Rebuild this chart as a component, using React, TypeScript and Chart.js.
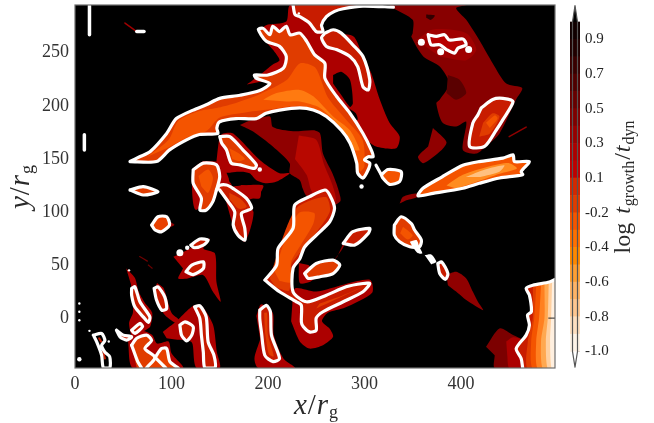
import React, { useEffect, useRef } from "react";
import { Chart, registerables } from "chart.js";

Chart.register(...registerables);

type P = number[][];

const xTicks = [0, 100, 200, 300, 400];
const yTicks = [0, 50, 100, 150, 200, 250];
const cbarTickValues = [-1, -0.789, -0.579, -0.368, -0.158, 0.053, 0.263, 0.474, 0.684, 0.895];
const cbarTickLabels = ["-1.0", "-0.8", "-0.6", "-0.4", "-0.2", "0.1", "0.3", "0.5", "0.7", "0.9"];
const cbarLevels = [-1, -0.895, -0.789, -0.684, -0.579, -0.474, -0.368, -0.263, -0.158, -0.053, 0.053, 0.158, 0.263, 0.368, 0.474, 0.579, 0.684, 0.789, 0.895, 1];
const cbarColors = ["#fff3e6", "#ffdfc0", "#ffc690", "#ffb366", "#ff9f33", "#ff8800", "#ff7000", "#f55500", "#e03c00", "#d42800", "#c00000", "#ad0000", "#980000", "#800000", "#680000", "#500000", "#380000", "#200000", "#100000"];

const DARK = "#900000", MID = "#ac0000", RED = "#c81c00", ORED = "#e03c00", ORANGE = "#f45400", BRIGHT = "#ff7a10", DEEP = "#5a0000", WHITE = "#ffffff", BLACK = "#000000";

// ----- filled level regions (x, y in r_g) -----
const topHalo: P = [[178,220],[191.5,229],[205,239],[212,243],[205,253],[191.5,268.5],[198,276],[219,279.5],[223,295],[268,295],[254,281],[255.5,268.5],[288,265.8],[298.5,246.5],[307,231],[316,205.7],[326,184],[336.5,171],[333,160],[312,161.7],[300,170],[260,205],[233,230]];
const topHole: P = [[267.5,229],[276,232],[285,224.5],[288,202.5],[285,199],[274.5,212],[267.5,221]];
const topNotch: P = [[285,197],[291,193],[293,187],[288,186]];
const stream: P = [[178,185],[202,190],[205,180],[226,176],[247,177],[254,174],[257,155],[267,136],[273,121],[275,110],[262,105],[240,115],[236,122],[233,130],[222.5,136.5],[222.5,146],[205,161.7],[184.6,175.8],[171,182]];
const streamCore: P = [[232,172],[250,168],[258,145],[267,125],[270,110],[255,108],[245,120],[240,135],[228,150]];
const midHalo: P = [[146.6,147.5],[150,171],[153.5,174],[164,174],[191.5,149],[212,136.5],[222.5,136.5],[209,128.6],[198.4,127],[188,130],[181,136.5],[172.5,138],[160.5,136.5],[160.5,128],[177,125],[191.5,124],[191.5,113],[172.5,113],[185,100],[176,72],[165,85],[150,122],[125,102],[122,140],[133,148]];
const midBlackA: P = [[157,137],[170,136],[173,126],[163,124]];
const r2Halo: P = [[330,292],[350,281],[350,268.5],[348.6,265],[361,246.5],[378,237],[388,221],[378,205.7],[374.5,202.5],[381,184],[395,180.5],[405.5,185],[402,158.5],[416,155],[426,162],[440,174],[457,205.7],[463.5,216.7],[447,221],[433,240],[419,262],[405.5,281],[395,292],[405.5,295],[326,295]];
const r2Core: P = [[354,262],[371,272],[405.5,268.5],[416,253],[405.5,243],[378,246.5]];
const r2Deep: P = [[386.5,229],[398.6,224.5],[405.5,212],[395,205.7],[385,212]];
const r2Hole: P = [[364,286],[373,285],[369,281],[364,283]];
const gBlob: P = [[371,179],[385,166],[380,158.5],[361,146],[355.5,152],[366,161.7]];
const bHalo: P = [[224,-3],[233,-22],[243,-28.7],[257,-25.5],[267.5,-17.6],[264,-10],[256,-3],[262,5],[280,10],[308,24],[306,36],[280,32],[250,25],[228,28],[225,10]];
const mHalo: P = [[232,52],[233,33],[243,34],[250,40],[242,50]];
const nTail: P = [[267,53],[277,65],[287,84],[278,70],[272,58]];
const hTail: P = [[336.5,108],[340,114.4],[354,117.5],[355.5,114.4],[343.4,111]];
const trail: P = [[385,40.5],[395,43.6],[405.5,37.4],[412.4,24.8],[417.6,15.4],[423,7.5],[405.5,17],[395,25],[386.5,31]];
const uDark: P = [[426,-27],[440,-9.8],[454,-16],[464,-21],[462,-30],[464,-47],[435,-47],[435,-35]];
const uMid: P = [[447,-22],[454,-18],[464,-21],[462,-30],[464,-47],[450,-47],[448,-35]];
const qHalo: P = [[102,57.8],[112,62],[140,75],[133,65.7],[145,61],[146.6,34],[151,15.4],[143,24.8],[133,40.5],[117,37.4],[107,37.4],[112,46.8]];
const tHalo: P = [[53,47],[62,38],[66,25],[72,15],[80,5],[78,-8],[72,-12],[60,-18],[56,-5],[60,5],[60,20],[58,32]];
const oHalo: P = [[85,33],[92,28],[100,5],[108,-2],[105,-5],[92,4],[82,25]];
const vHalo: P = [[91,-13],[105,-3],[115,6],[123,12],[131,12],[143,-6],[147,-32],[150,-47],[126,-47],[122,-25],[120,-22],[102,-20],[95,-19]];
const v2Halo: P = [[55,-22],[60,-47],[112,-47],[100,-33],[97,-22],[85,-24],[80,-16],[70,-12],[60,-15]];
const pHalo: P = [[188,2],[193,13],[205,5],[206,-16],[216,-38],[228,-47],[190,-47],[186,-38],[192,-20]];
const blob2Tip: P = [[95,92],[103,88],[95,84]];
const d2Halo: P = [[172.5,125],[195,125],[192,118],[182,112],[175,115]];

const armFill: P = [[57,147.5],[67,152],[78,157],[95,174],[105,188],[122.5,196],[136,201],[150,207],[171,210],[191.5,214.5],[202,221],[188,226],[186,229],[200,229],[216,235.5],[219,246.5],[212,256],[198,261],[190,272],[195,273],[202,267],[205,275],[212,270],[219,275],[223,267],[233,268.5],[240,261],[248.5,248],[259,240],[259,226],[271,209],[285,193],[298.5,174],[307,158.5],[309,152],[304,152],[300,149],[305.5,146],[304,140],[298.5,132],[293,136.5],[292,146],[285,165],[276,177],[260.6,190],[247,196],[233,198],[212,196],[198,193],[188,188],[167,188],[150,185],[147,179],[148,174],[129,173],[115.6,168],[98,158.5],[84.5,147.5],[57,147.5]];
const armOrange: P = [[75,152],[97,168],[107,186],[128,195],[147,198],[164,202],[191.5,211],[219,224],[233,240],[249,236],[262,208],[280,188],[298,168],[300,143],[295,138],[287,168],[265,186],[250,196],[233,200],[205,197],[178,194],[150,189],[136,176],[115.6,170],[95,160]];
const armBright: P = [[195,205.7],[209,212],[233,215],[247,209],[267.5,190],[285,177],[295,158.5],[290,158.5],[274.5,180.5],[254,198],[233,204],[219,204]];
const topInner: P = [[226,295],[228,286],[233,284],[243,278],[250,270],[257,270],[255.5,276],[260.6,284],[269,289],[278,291.5],[298.5,295]];
const loopTwo: P = [[259,268.5],[267.5,271.7],[276,268.5],[288,257.5],[298.5,246.5],[305.5,224.5],[304,215],[298.5,218],[293,237],[285,246.5],[271,253],[260.6,256],[255.5,264],[259,268.5]];
const squiggle: P = [[366,267],[374.5,265.4],[383,267],[388,262],[402,263],[405.5,257.5],[397,254.4],[393.4,249.7],[385,253],[378,257.5],[369,257.5],[366,267]];
const fLoop: P = [[421,198],[433,206],[443.5,207],[454,204],[443.5,187],[436.5,177],[424.5,161.7],[409,161.7],[412.4,184],[417.6,191.5],[421,198]];
const fOrange: P = [[423,184],[433,193],[440,190],[430,174],[419,171]];
const fBright: P = [[426,184],[435,191],[438,188],[430,179]];
const hLoop: P = [[381,133.4],[402,144],[419,147.5],[443.5,150.7],[454,153.8],[455.5,147.5],[471,147.5],[462.4,138],[464,135],[440,132],[419,127],[402,122.4],[371,117.5],[355.5,115.3],[360.6,122.3],[381,133.4]];
const hMid: P = [[385,125],[402,135],[430,143],[450,146],[458,141],[440,136],[415,128],[395,122]];
const hLight: P = [[405,133],[425,140],[445,144],[440,138],[420,133]];
const jLoop: P = [[317.5,135],[324.4,140],[338,138],[336.5,128.7],[326,126],[319,132],[317.5,135]];
const bLoop: P = [[196.7,35.8],[209,50],[210.5,65.7],[226,84.5],[227.7,106.5],[243,114.4],[259,120.7],[264,116],[269,103.4],[264,90.8],[250,78],[238,67],[233,56],[226,46.8],[226,24.8],[240,15.4],[260.6,21.6],[281,29.5],[298.5,32.6],[305.5,32.6],[298.5,24.8],[278,15.4],[257,6],[250,0],[250,-11.4],[243,-13],[236.5,-8],[234.6,-3.5],[234.6,12],[229.5,15.4],[212,24.8],[196.7,35.8]];
const bOrange: P = [[207,43.7],[217,72],[232,99],[248,99],[247,89],[234,69],[224,53],[224,34],[212,35]];
const bOuter: P = [[202,37],[213,70],[230,104],[260,114],[264,100],[241,70],[224,50],[222,26],[208,29]];
const kInner: P = [[250,9],[298.5,29.5],[278,21.6],[253.6,13.8]];
const mLoop: P = [[238,42],[250,51.5],[267.5,54.6],[274.5,50],[267.5,42],[254,39],[241.6,37.4],[238,42]];
const nLoop: P = [[278,70.4],[288,81.4],[305.5,84.5],[304,79.8],[290,68.8],[278,70.4]];
const dLoop: P = [[150,171],[160.5,171],[174,158.5],[188,144.4],[186,141],[171,144.4],[162,146],[157,158.5],[152,165],[150,171]];
const dOrange: P = [[160,160],[170,155],[176,150],[170,148],[163,150]];
const cLoop: P = [[122.5,139.6],[133,146],[146.6,144.4],[150,133.4],[146.6,120.7],[143,110],[136,101.8],[129.5,101.8],[131,112.8],[122.5,127],[122.5,139.6]];
const cOrange: P = [[128,134],[138,140],[143,132],[138,118],[131,124]];
const d2Loop: P = [[146.6,120.7],[150,125],[157,125.4],[164,122],[177.7,112.8],[183,103.4],[172.5,98.7],[176,84.5],[176,73.5],[169,78],[164,87.7],[165.6,100],[158.7,109.7],[150,120.7]];
const d2Orange: P = [[160,118],[172,112],[178,105],[170,103],[160,112]];
const ovalA: P = [[57,120.7],[70.7,123.8],[86,119],[70.7,116],[57,120.7]];
const ovalB: P = [[79.4,87.7],[86,95.5],[95,95.5],[98,87.7],[89.7,81.4],[83,83],[79.4,87.7]];
const ovalC: P = [[120,68.8],[129.4,74.5],[138,73.5],[133,68.8],[124,66.3],[120,68.8]];
const ovalD: P = [[115,43.7],[121,50],[133,53],[133,46.8],[122.5,41],[115,43.7]];
const ovalE: P = [[82,28],[86,29.5],[93,20],[95,9],[90,7.5],[84.5,17],[82,28]];
const ovalF: P = [[58.7,28],[62,29.5],[67.3,15.4],[77.6,1.2],[76,-4],[70.7,1.2],[62,10.6],[58.7,21.6],[58.7,28]];
const ovalG: P = [[58.7,-11.4],[67.3,-5],[70,-8],[62,-14.5],[58.7,-11.4]];
const ovalH: P = [[43,-11.4],[50,-16],[58.7,-17.6],[53.5,-20.8],[46.6,-17.6],[43,-11.4]];
const ovalI: P = [[108.7,-6.6],[114,-3.5],[122.5,-8],[121,-16],[115.6,-21.4],[110.4,-16],[108.7,-6.6]];
const tallLoop: P = [[124,10.6],[129.4,11.6],[136,1.2],[138,-22.4],[144,-35],[145,-47],[134.6,-47],[133,-32],[131,-16],[129.4,-0.4],[124,10.6]];
const leftLoop: P = [[19,-16],[27.6,-14.5],[31,-21],[27.6,-25.5],[31,-32],[36,-36.5],[36,-47],[29.4,-47],[27.6,-35],[22.5,-22.4],[19,-16]];
const waveFillA: P = [[58.7,-25.5],[64,-19],[74.2,-16],[79.4,-21],[72.5,-28.7],[83,-37],[74,-47],[64,-47]];
const waveFillB: P = [[83,-37],[89.7,-28.7],[95,-28.7],[98.4,-41],[107,-47],[74,-47]];
const pLoop: P = [[191.5,7.5],[198.4,12],[202.5,6],[203.6,-16],[212,-38],[205.3,-41],[196.7,-35],[193.2,-13],[191.5,-0.4],[191.5,7.5]];
const pOrange: P = [[196,5],[199,5],[200,-16],[206,-36],[201,-34],[197,-14]];
const cornerFill: P = [[457.3,-28.7],[467.6,-16],[471,-6.6],[469,3],[473,6],[471,21.6],[467.6,28],[474.5,31],[491.7,34],[499,37],[499,-48],[464,-48],[462.4,-38]];
const bandA: P = [[474.5,29.5],[474.5,0],[469.3,-22.4],[469.3,-48],[499,-48],[499,37]];
const bandB: P = [[478,29.5],[476,0],[472.8,-22],[474.5,-48],[499,-48],[499,37]];
const bandC: P = [[483,31],[481,0],[478,-22],[479.7,-48],[499,-48],[499,37]];
const bandD: P = [[486.6,33],[486.6,0],[483,-22],[485,-48],[499,-48],[499,37]];
const bandE: P = [[491,34.2],[490,0],[488,-22],[490,-48],[499,-48],[499,37]];
const bandF: P = [[494.5,35],[493.5,0],[492.4,-22],[494,-48],[499,-48],[499,37]];
const zLoop: P = [[331,87.7],[338,95.5],[348.6,89],[352,83],[359,73.5],[357,67.2],[347,67.2],[336.5,72],[331,78.2],[331,87.7]];
const zOrange: P = [[340,86],[350,78],[345,74],[337,80]];
const chainA: P = [[347,72],[354,73.5],[357,67],[360,61],[355.5,61],[350,67]];
const chainB: P = [[362.4,59.4],[369.3,60],[374.5,53],[369.3,50.6]];
const chainC: P = [[376,51.5],[380,53],[386.5,42],[383.8,36.4],[378,42],[376,51.5]];

// ----- open white contours -----
const topLineA: P = [[226,295],[228,286],[233,284],[243,278],[250,270],[257,270],[255.5,276],[260.6,284],[269,289],[278,291.5],[298.5,294],[330,293]];
const jTail: P = [[312,144],[317.5,135]];
const cornerLine: P = [[499,37],[491.7,34],[474.5,31],[467.6,28],[471,21.6],[473,6],[469,3],[471,-6.6],[467.6,-16],[457.3,-28.7],[462.4,-38],[464,-47]];
const waveA: P = [[58.7,-25.5],[64,-19],[74.2,-16],[79.4,-21],[72.5,-28.7],[83,-37],[74,-47]];
const waveB: P = [[58.7,-25.5],[65,-41],[69,-47]];
const waveC: P = [[83,-37],[89.7,-28.7],[95,-28.7],[98.4,-41],[107,-47]];
const waveD: P = [[83,-37],[94,-47]];
const barA: P = [[15,294],[15,267]];
const barB: P = [[9.7,172.7],[9.7,158.5]];
const barC: P = [[64,270],[71.5,270]];
const tallCore: P = [[128,8],[133,-5],[135,-22],[139,-35],[140,-47]];
const leftCore: P = [[25,-19],[27,-22]];
const leftCoreB: P = [[29,-31],[31,-38]];
const streakA: P = [[450,171],[467.6,180]];
const streakB: P = [[51.8,278],[64,270]];
const streakC: P = [[67,58],[75,53.7]];
const streakD: P = [[76,50],[80,47]];
const axisTickRight: P = [[491,0],[498,0]];

// ----- small spots -----
const spotsLarge: P = [[359,260],[379,251],[408,253],[108.7,61.6]];
const spotsMid: P = [[191.5,140],[116.3,66.3],[4.5,-38.7],[297,124]];
const spotsSmall: P = [[15,-12],[35,-22],[4.5,13.8],[4.5,6],[4.5,-2],[56,45],[232,287]];

type Layer = { pts: P; fill?: string; line?: string; width?: number; radius?: number };

const layers: Layer[] = [
  { pts: topHalo, fill: MID }, { pts: topHole, fill: BLACK }, { pts: topNotch, fill: BLACK },
  { pts: stream, fill: DARK }, { pts: streamCore, fill: "#b80800" }, { pts: midHalo, fill: MID }, { pts: midBlackA, fill: BLACK },
  { pts: r2Halo, fill: "#880000" }, { pts: r2Core, fill: "#a00000" }, { pts: r2Deep, fill: DEEP }, { pts: r2Hole, fill: "#300000" },
  { pts: gBlob, fill: DARK }, { pts: bHalo, fill: MID }, { pts: mHalo, fill: MID }, { pts: nTail, fill: DARK }, { pts: hTail, fill: DARK },
  { pts: trail, fill: "#900000" }, { pts: uDark, fill: "#7c0000" }, { pts: uMid, fill: "#ac0000" }, { pts: qHalo, fill: MID },
  { pts: tHalo, fill: MID }, { pts: oHalo, fill: MID }, { pts: vHalo, fill: MID }, { pts: v2Halo, fill: MID }, { pts: pHalo, fill: MID },
  { pts: blob2Tip, fill: DARK }, { pts: d2Halo, fill: MID },
  { pts: armFill, fill: ORED }, { pts: armOrange, fill: ORANGE }, { pts: armBright, fill: BRIGHT },
  { pts: topInner, fill: RED }, { pts: loopTwo, fill: RED }, { pts: squiggle, fill: "#b80000" },
  { pts: fLoop, fill: RED }, { pts: fOrange, fill: "#e03c00" }, { pts: fBright, fill: ORANGE },
  { pts: hLoop, fill: ORANGE }, { pts: hMid, fill: "#ff8c20" }, { pts: hLight, fill: "#ffc080" },
  { pts: jLoop, fill: ORANGE },
  { pts: bLoop, fill: RED }, { pts: bOuter, fill: ORED }, { pts: bOrange, fill: ORANGE }, { pts: kInner, fill: ORED },
  { pts: mLoop, fill: ORED }, { pts: nLoop, fill: RED }, { pts: dLoop, fill: ORED }, { pts: dOrange, fill: ORANGE },
  { pts: cLoop, fill: ORED }, { pts: cOrange, fill: ORANGE }, { pts: d2Loop, fill: RED }, { pts: d2Orange, fill: ORED },
  { pts: ovalA, fill: ORED }, { pts: ovalB, fill: "#e84000" }, { pts: ovalC, fill: RED }, { pts: ovalD, fill: RED }, { pts: ovalE, fill: RED },
  { pts: ovalF, fill: RED }, { pts: ovalG, fill: RED }, { pts: ovalH, fill: RED }, { pts: ovalI, fill: RED },
  { pts: tallLoop, fill: RED }, { pts: leftLoop, fill: BLACK }, { pts: waveFillA, fill: ORED }, { pts: waveFillB, fill: "#e84000" },
  { pts: pLoop, fill: RED }, { pts: pOrange, fill: "#e03c00" },
  { pts: cornerFill, fill: RED }, { pts: bandA, fill: "#e03c00" }, { pts: bandB, fill: ORANGE }, { pts: bandC, fill: "#ff8020" },
  { pts: bandD, fill: "#ffa850" }, { pts: bandE, fill: "#ffd0a0" }, { pts: bandF, fill: "#fff0e0" },
  { pts: zLoop, fill: ORED }, { pts: zOrange, fill: ORANGE }, { pts: chainA, fill: WHITE }, { pts: chainB, fill: WHITE }, { pts: chainC, fill: RED },
  { pts: tallCore, line: RED, width: 2 }, { pts: leftCore, line: RED, width: 2 }, { pts: leftCoreB, line: RED, width: 2 },
  { pts: streakA, line: "#900000", width: 1.5 }, { pts: streakB, line: "#a00000", width: 1.5 },
  { pts: streakC, line: "#700000", width: 1.2 }, { pts: streakD, line: "#700000", width: 1.2 },
  ...[armFill, loopTwo, squiggle, fLoop, hLoop, jLoop, bLoop, mLoop, nLoop, dLoop, cLoop, d2Loop, ovalA, ovalB, ovalC, ovalD, ovalE, ovalF, ovalG, ovalH, ovalI, tallLoop, leftLoop, pLoop, zLoop, chainC, topLineA, jTail, cornerLine, waveA, waveB, waveC, waveD].map((pts) => ({ pts, line: WHITE, width: 3.2 })),
  { pts: barA, line: WHITE, width: 3.5 }, { pts: barB, line: WHITE, width: 3.5 }, { pts: barC, line: WHITE, width: 3.5 },
  { pts: spotsLarge, radius: 3.5 }, { pts: spotsMid, radius: 2.2 }, { pts: spotsSmall, radius: 1.2 },
  { pts: axisTickRight, line: "#222222", width: 1 },
];

const SERIF = "'Liberation Serif'";
type Run = { t: string; font: string; dy?: number; gap?: number };

function drawRuns(ctx: CanvasRenderingContext2D, runs: Run[], x: number, y: number, angle: number) {
  ctx.save();
  ctx.translate(x, y);
  ctx.rotate(angle);
  ctx.fillStyle = "#2a2a2a";
  ctx.textBaseline = "alphabetic";
  ctx.textAlign = "left";
  let total = 0;
  for (const r of runs) {
    ctx.font = r.font;
    total += ctx.measureText(r.t).width + (r.gap ?? 0);
  }
  let cx = -total / 2;
  for (const r of runs) {
    ctx.font = r.font;
    ctx.fillText(r.t, cx, r.dy ?? 0);
    cx += ctx.measureText(r.t).width + (r.gap ?? 0);
  }
  ctx.restore();
}

const mapDecor = {
  id: "mapDecor",
  beforeDatasetsDraw(chart: any) {
    const { ctx, chartArea: a } = chart;
    ctx.save();
    ctx.fillStyle = "#000";
    ctx.fillRect(a.left, a.top, a.right - a.left, a.bottom - a.top);
    ctx.restore();
  },
  afterDraw(chart: any) {
    const { ctx, chartArea: a } = chart;
    ctx.save();
    ctx.strokeStyle = "#6e6e6e";
    ctx.lineWidth = 1.2;
    ctx.strokeRect(a.left, a.top, a.right - a.left, a.bottom - a.top);
    ctx.restore();
    const it = `italic 29px ${SERIF}`;
    const sub = `18px ${SERIF}`;
    drawRuns(ctx, [{ t: "x", font: it, gap: 1 }, { t: "/", font: `29px ${SERIF}`, gap: 1 }, { t: "r", font: it, gap: 1 }, { t: "g", font: sub, dy: 4 }], 316, 414, 0);
    drawRuns(ctx, [{ t: "y", font: it, gap: 1 }, { t: "/", font: `29px ${SERIF}`, gap: 1 }, { t: "r", font: it, gap: 1 }, { t: "g", font: sub, dy: 4 }], 29, 187, -Math.PI / 2);
  },
};

const cbarDecor = {
  id: "cbarDecor",
  afterDraw(chart: any) {
    const ctx = chart.ctx;
    const reg = `24px ${SERIF}`;
    const it = `italic 24px ${SERIF}`;
    const sub = `16px ${SERIF}`;
    drawRuns(ctx, [
      { t: "log ", font: reg, gap: 3 }, { t: "t", font: it, gap: 1 }, { t: "growth", font: sub, dy: 4, gap: 1 },
      { t: "/", font: reg, gap: 1 }, { t: "t", font: it, gap: 1 }, { t: "dyn", font: sub, dy: 4 },
    ], 60, 187, -Math.PI / 2);
  },
};

const W = 654;
const H = 423;
const LEFT = 75, RIGHT = 555, TOP = 5, BOTTOM = 368;

export default function App() {
  const mapRef = useRef<HTMLCanvasElement>(null);
  const barRef = useRef<HTMLCanvasElement>(null);

  useEffect(() => {
    document.body.style.margin = "0";
    const n = layers.length;
    const mapChart = new Chart(mapRef.current as HTMLCanvasElement, {
      type: "scatter",
      data: {
        datasets: layers.map((l, i) => ({
          data: l.pts.map(([x, y]) => ({ x, y })),
          order: n - i,
          showLine: !l.radius,
          fill: l.fill ? "shape" : false,
          backgroundColor: l.fill ?? "#ffffff",
          borderColor: l.line ?? "transparent",
          borderWidth: l.line ? l.width : 0,
          borderJoinStyle: "round",
          borderCapStyle: "round",
          pointRadius: l.radius ?? 0,
          pointBackgroundColor: "#ffffff",
          pointBorderWidth: 0,
          tension: 0.25,
        })),
      } as any,
      plugins: [mapDecor],
      options: {
        responsive: false,
        animation: false,
        events: [],
        layout: { padding: { left: 0, top: TOP, right: W - RIGHT, bottom: 0 } },
        plugins: { legend: { display: false }, tooltip: { enabled: false } },
        scales: {
          x: {
            type: "linear", min: 0, max: 497.5,
            afterBuildTicks: (s: any) => { s.ticks = xTicks.map((value) => ({ value })); },
            afterFit: (s: any) => { s.height = H - BOTTOM; s.paddingLeft = 0; s.paddingRight = 0; },
            grid: { display: false, drawTicks: false }, border: { display: false },
            ticks: { color: "#333", font: { family: SERIF, size: 18 }, padding: 5, maxRotation: 0, autoSkip: false },
          },
          y: {
            type: "linear", min: -47, max: 295,
            afterBuildTicks: (s: any) => { s.ticks = yTicks.map((value) => ({ value })); },
            afterFit: (s: any) => { s.width = LEFT; s.paddingTop = 0; s.paddingBottom = 0; },
            grid: { display: false, drawTicks: false }, border: { display: false },
            ticks: { color: "#333", font: { family: SERIF, size: 18 }, padding: 6, autoSkip: false },
          },
        },
      } as any,
    });

    const bars = cbarColors.map((c, i) => ({
      type: "bar",
      data: [[cbarLevels[i], cbarLevels[i + 1]]],
      backgroundColor: c,
      borderWidth: 0,
      grouped: false,
      barPercentage: 1,
      categoryPercentage: 1,
      xAxisID: "x",
      order: 5,
    }));
    const tipTop = [{ x: 0, y: 1 }, { x: 0.5, y: 1.1 }, { x: 1, y: 1 }, { x: 0, y: 1 }];
    const tipBottom = [{ x: 0, y: -1 }, { x: 0.5, y: -1.095 }, { x: 1, y: -1 }, { x: 0, y: -1 }];
    const outline = [{ x: 0, y: -1 }, { x: 0.5, y: -1.095 }, { x: 1, y: -1 }, { x: 1, y: 1 }, { x: 0.5, y: 1.1 }, { x: 0, y: 1 }, { x: 0, y: -1 }];
    const barChart = new Chart(barRef.current as HTMLCanvasElement, {
      type: "bar",
      data: {
        labels: ["level"],
        datasets: [
          ...bars,
          { type: "line", data: tipTop, xAxisID: "xt", fill: "shape", backgroundColor: "#000000", borderWidth: 0, pointRadius: 0, order: 3, clip: false },
          { type: "line", data: tipBottom, xAxisID: "xt", fill: "shape", backgroundColor: "#ffffff", borderWidth: 0, pointRadius: 0, order: 3, clip: false },
          { type: "line", data: outline, xAxisID: "xt", fill: false, borderColor: "#555555", borderWidth: 1.2, borderJoinStyle: "round", pointRadius: 0, order: 1, clip: false },
        ],
      } as any,
      plugins: [cbarDecor],
      options: {
        responsive: false,
        animation: false,
        events: [],
        layout: { padding: { left: 0, top: TOP, right: 0, bottom: H - BOTTOM } },
        plugins: { legend: { display: false }, tooltip: { enabled: false } },
        scales: {
          x: { type: "category", display: false },
          xt: { type: "linear", display: false, min: 0, max: 1 },
          y: {
            type: "linear", position: "right", min: -1.1, max: 1.103,
            afterBuildTicks: (s: any) => { s.ticks = cbarTickValues.map((value) => ({ value })); },
            afterFit: (s: any) => { s.width = W - 580; s.paddingTop = 0; s.paddingBottom = 0; },
            grid: { display: true, drawOnChartArea: false, drawTicks: true, tickLength: -3, color: "#333333", tickColor: "#333333" },
            border: { display: false },
            ticks: {
              color: "#222", font: { family: SERIF, size: 15 }, padding: 8, autoSkip: false,
              callback: (v: number) => cbarLabelFor(v),
            },
          },
        },
      } as any,
    });
    return () => {
      mapChart.destroy();
      barChart.destroy();
    };
  }, []);

  return (
    <div style={{ position: "absolute", left: 0, top: 0, width: W, height: H, overflow: "hidden", background: "#fff" }}>
      <canvas ref={mapRef} width={W} height={H} style={{ position: "absolute", left: 0, top: 0 }} />
      <div style={{ position: "absolute", left: 570, top: 0, width: W - 570, height: H }}>
        <canvas ref={barRef} width={W - 570} height={H} style={{ position: "absolute", left: 0, top: 0 }} />
      </div>
    </div>
  );
}

function cbarLabelFor(v: number) {
  const i = cbarTickValues.indexOf(v);
  return i >= 0 ? cbarTickLabels[i] : "";
}
